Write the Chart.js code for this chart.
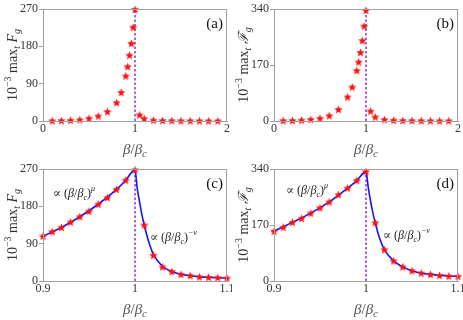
<!DOCTYPE html>
<html>
<head>
<meta charset="utf-8">
<script src="https://cdn.jsdelivr.net/npm/chart.js@4.4.0/dist/chart.umd.min.js"></script>
<style>
  html, body { margin: 0; padding: 0; background: #fff; }
  #wrap { position: relative; width: 463px; height: 320px; }
  .cell { position: absolute; width: 232px; height: 160px; }
</style>
</head>
<body>
<div id="wrap">
  <div class="cell" style="left:0;top:0"><canvas id="pa" width="232" height="160"></canvas></div>
  <div class="cell" style="left:231px;top:0"><canvas id="pb" width="232" height="160"></canvas></div>
  <div class="cell" style="left:0;top:160px"><canvas id="pc" width="232" height="160"></canvas></div>
  <div class="cell" style="left:231px;top:160px"><canvas id="pd" width="232" height="160"></canvas></div>
</div>
<script>
// --- data ---
const betaWide = [0.1, 0.2, 0.3, 0.4, 0.5, 0.6, 0.7, 0.8, 0.85, 0.9, 0.92, 0.94, 0.96, 0.98, 1.0,
                  1.05, 1.1, 1.2, 1.3, 1.4, 1.5, 1.6, 1.7, 1.8, 1.9];
const fA = [0.6, 1, 1.7, 3, 6.4, 12, 22.5, 44, 69, 108.5, 131, 158.5, 187, 226, 269,
            14.5, 5.6, 2, 1.2, 0.8, 0.6, 0.5, 0.4, 0.3, 0.3];
const fB = [1, 1.5, 2.5, 4.5, 8, 16, 35, 73, 103, 153, 179, 208, 244, 288, 336,
            30, 12, 4, 2.2, 1.5, 1.1, 0.8, 0.6, 0.5, 0.4];

const betaZoom = [0.90, 0.91, 0.92, 0.93, 0.94, 0.95, 0.96, 0.97, 0.98, 0.99, 1.00,
                  1.01, 1.02, 1.03, 1.04, 1.05, 1.06, 1.07, 1.08, 1.09, 1.10];
const fC = [108, 119, 129, 142, 155, 168, 185, 201, 221, 243, 268,
            135, 62, 34, 23, 16, 13, 10, 9, 8, 7];
const fD = [151, 163, 178, 190, 206, 222, 240, 262, 282, 305, 332,
            177, 95, 61, 43, 31, 24, 20, 17, 15, 14];

// fitted curves (blue)
const fitX = [0.90, 0.92, 0.94, 0.96, 0.98, 0.99, 1.00, 1.0025, 1.005, 1.0075, 1.01,
              1.015, 1.02, 1.03, 1.04, 1.05, 1.06, 1.07, 1.08, 1.09, 1.10];
const fitC = [108, 129, 155, 185, 221, 243, 268, 222, 190, 160, 135,
              94, 64, 35, 23, 16, 12.5, 10, 8.8, 7.8, 7];
const fitD = [151, 178, 206, 240, 282, 305, 332, 283, 242, 207, 177,
              128, 95, 61, 43, 31, 24, 20, 17, 15, 14];

const betaC = 1;
const xTicksWide = [0, 1, 2];
const xTicksZoom = [0.9, 1, 1.1];
const yTicksA = [0, 90, 180, 270];
const yTicksB = [0, 170, 340];

const SERIF = '"Liberation Serif", "DejaVu Serif", serif';

// filled five-point star marker
function makeStar(r, color) {
  const c = document.createElement('canvas');
  const s = Math.ceil(r * 2) + 2;
  c.width = s; c.height = s;
  const g = c.getContext('2d');
  g.beginPath();
  for (let i = 0; i < 10; i++) {
    const rr = i % 2 === 0 ? r : r * 0.45;
    const a = -Math.PI / 2 + i * Math.PI / 5;
    const px = s / 2 + rr * Math.cos(a), py = s / 2 + 0.4 + rr * Math.sin(a);
    i === 0 ? g.moveTo(px, py) : g.lineTo(px, py);
  }
  g.closePath();
  g.fillStyle = color;
  g.fill();
  return c;
}
const star = makeStar(4.3, '#ff1010');

// rich text: segments {t, it, dy, k}
function drawRich(ctx, segs, x, y, size, align) {
  const fontOf = s => (s.it ? 'italic ' : '') + Math.round(size * (s.k || 1)) + 'px ' + SERIF;
  let w = 0;
  segs.forEach(s => { ctx.font = fontOf(s); w += ctx.measureText(s.t).width; });
  let cx = align === 'center' ? x - w / 2 : x;
  ctx.textBaseline = 'alphabetic';
  ctx.textAlign = 'left';
  segs.forEach(s => {
    ctx.font = fontOf(s);
    ctx.fillText(s.t, cx, y + (s.dy || 0));
    cx += ctx.measureText(s.t).width;
  });
}

const N = t => ({ t });
const I = t => ({ t, it: true });
const SUB = (t, it) => ({ t, it, dy: 3, k: 0.7 });
const SUP = (t, it) => ({ t, it, dy: -6, k: 0.7 });

const xTitle = [I('β'), N('/'), I('β'), SUB('c', true)];
const yTitle = F => [N('10'), SUP('−3'), N(' max'), SUB('t', true), N(' '), I(F), SUB('g', true)];
const annMu = [N('∝ ('), I('β'), N('/'), I('β'), SUB('c', true), N(')'), SUP('μ', true)];
const annNu = [N('∝ ('), I('β'), N('/'), I('β'), SUB('c', true), N(')'), SUP('−ν', true)];

const decor = {
  id: 'decor',
  afterDraw(chart) {
    const o = chart.options.plugins.decor;
    const { ctx, chartArea: a } = chart;
    ctx.save();
    ctx.strokeStyle = '#a0a0a0';
    ctx.lineWidth = 1;
    ctx.strokeRect(a.left + 0.5, a.top + 0.5, a.right - a.left - 1, a.bottom - a.top);
    ctx.fillStyle = '#555';
    drawRich(ctx, xTitle, (a.left + a.right) / 2, 154, 15, 'center');
    ctx.save();
    ctx.translate(17, (a.top + a.bottom) / 2);
    ctx.rotate(-Math.PI / 2);
    ctx.fillStyle = '#333';
    drawRich(ctx, yTitle(o.F), 0, 0, 14, 'center');
    ctx.restore();
    ctx.fillStyle = '#111';
    ctx.font = '15px ' + SERIF;
    ctx.textAlign = 'right';
    ctx.textBaseline = 'alphabetic';
    ctx.fillText(o.label, 223, 28);
    ctx.fillStyle = '#222';
    (o.ann || []).forEach(an => drawRich(ctx, an.segs, an.x, an.y, 11.5, 'left'));
    ctx.restore();
  }
};

function makePanel(id, xs, ys, fitXs, fitYs, xMin, xMax, xTicks, yTicks, F, label, ann) {
  const yMax = yTicks[yTicks.length - 1];
  const pts = xs.map((x, i) => ({ x, y: ys[i] }));
  const datasets = [
    { data: pts, pointStyle: star, pointRadius: 4, showLine: false, clip: false }
  ];
  if (fitXs) {
    datasets.push({
      data: fitXs.map((x, i) => ({ x, y: fitYs[i] })),
      showLine: true, borderColor: '#1414ff', borderWidth: 1.6, pointRadius: 0,
      cubicInterpolationMode: 'monotone'
    });
  }
  datasets.push({
    data: [{ x: betaC, y: 0 }, { x: betaC, y: yMax }],
    showLine: true, borderColor: '#9a2fc0', borderWidth: 1.5, borderDash: [2.5, 2],
    pointRadius: 0
  });
  return new Chart(document.getElementById(id), {
    type: 'scatter',
    data: { datasets },
    options: {
      responsive: false,
      animation: false,
      events: [],
      layout: { padding: { top: 9, right: 4, left: 0, bottom: 0 } },
      plugins: {
        legend: { display: false },
        tooltip: { enabled: false },
        decor: { F, label, ann }
      },
      scales: {
        x: {
          type: 'linear', min: xMin, max: xMax,
          afterBuildTicks: s => { s.ticks = xTicks.map(v => ({ value: v })); },
          afterFit: s => { s.height = 39; s.paddingLeft = 0; s.paddingRight = 0; },
          ticks: {
            autoSkip: false, maxRotation: 0, padding: 1, color: '#333',
            font: { family: SERIF, size: 12 }, callback: v => String(v)
          },
          grid: { drawOnChartArea: false, drawTicks: false },
          border: { color: '#a0a0a0' }
        },
        y: {
          type: 'linear', min: 0, max: yMax,
          afterBuildTicks: s => { s.ticks = yTicks.map(v => ({ value: v })); },
          afterFit: s => { s.width = 43; s.paddingTop = 0; s.paddingBottom = 0; },
          ticks: {
            autoSkip: false, padding: 1, color: '#333',
            font: { family: SERIF, size: 12 }, callback: v => String(v)
          },
          grid: { drawOnChartArea: false, tickLength: 4, color: '#a0a0a0' },
          border: { color: '#a0a0a0' }
        }
      }
    },
    plugins: [decor]
  });
}

makePanel('pa', betaWide, fA, null, null, 0, 2, xTicksWide, yTicksA, 'F', '(a)');
makePanel('pb', betaWide, fB, null, null, 0, 2, xTicksWide, yTicksB, 'ℱ', '(b)');
makePanel('pc', betaZoom, fC, fitX, fitC, 0.9, 1.1, xTicksZoom, yTicksA, 'F', '(c)', [
  { segs: annMu, x: 53, y: 37 },
  { segs: annNu, x: 150, y: 81 }
]);
makePanel('pd', betaZoom, fD, fitX, fitD, 0.9, 1.1, xTicksZoom, yTicksB, 'ℱ', '(d)', [
  { segs: annMu, x: 55, y: 34 },
  { segs: annNu, x: 152, y: 79 }
]);
</script>
</body>
</html>
